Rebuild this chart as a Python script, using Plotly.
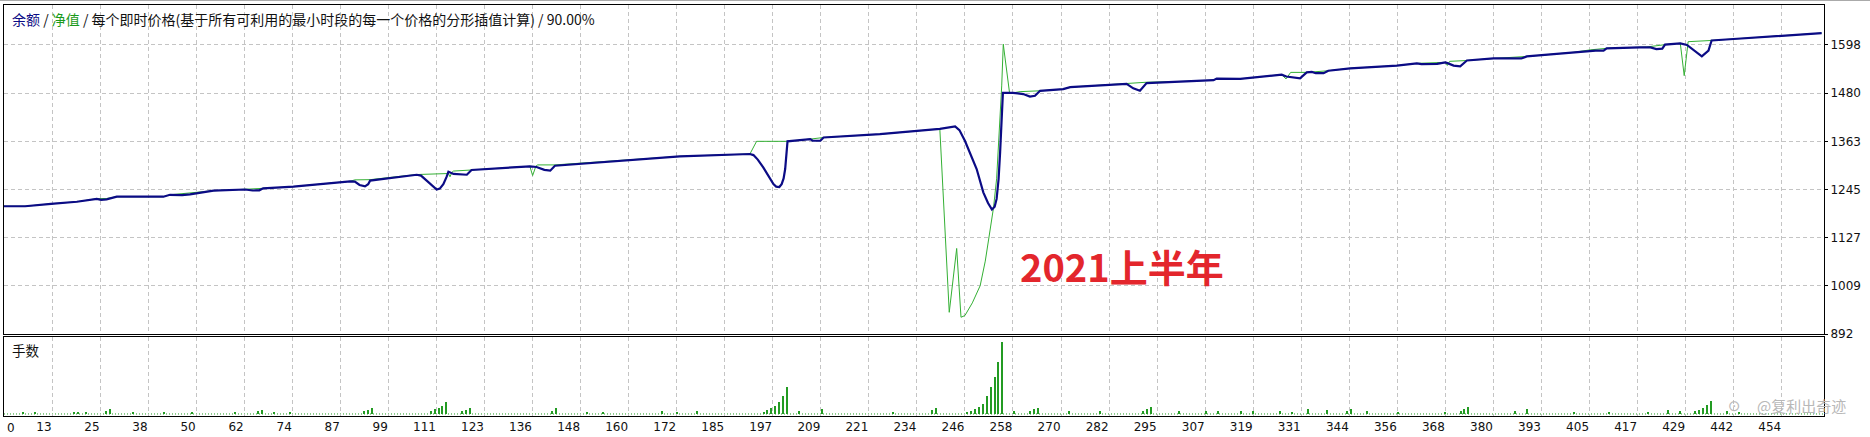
import plotly.graph_objects as go

# ---------------- data ----------------
x_tick_labels = ["0", "13", "25", "38", "50", "62", "74", "87", "99", "111", "123", "136",
                 "148", "160", "172", "185", "197", "209", "221", "234", "246", "258", "270",
                 "282", "295", "307", "319", "331", "344", "356", "368", "380", "393", "405",
                 "417", "429", "442", "454"]
y_tick_labels = ["892", "1009", "1127", "1245", "1363", "1480", "1598"]

balance_trade = [0, 5.4, 12, 18.6, 23.7, 24.8, 26.2, 28.8, 40.7, 42.4, 45.5, 47.5, 53.5, 61.6,
                 63.5, 65.2, 66.2, 73.9, 88.4, 89.6, 90.8, 92.2, 93.0, 93.5, 105.4, 106.5, 107.8,
                 109.2, 110.5, 111.3, 112.2, 113.0, 113.5, 114.8, 116.5, 118.2, 119.4, 126.7,
                 134.3, 136.0, 138.0, 139.5, 140.7, 172.6, 190.5, 191.4, 192.5, 193.9, 195.6,
                 196.5, 197.2, 198.0, 198.6, 199.1, 199.5, 200.1, 205.9, 206.5, 208.5, 209.3,
                 223.7, 239.0, 242.9, 244.0, 245.4, 246.8, 248.4, 250.1, 251.3, 252.3, 253.0,
                 253.5, 254.0, 254.4, 254.8, 255.1, 257.7, 260.3, 262.0, 263.3, 264.6, 270.5,
                 272.3, 286.7, 288.4, 290.1, 291.8, 301.2, 308.9, 309.7, 315.7, 326.3, 327.5,
                 331.0, 332.7, 334.0, 335.0, 337.0, 338.2, 343.8, 355.7, 360.8, 362.0, 366.0,
                 368.1, 368.8, 370.2, 371.9, 373.6, 380.4, 385.0, 387.5, 388.9, 400.8, 405.1,
                 406.5, 408.5, 409.3, 417.8, 420.5, 422.0, 423.5, 424.2, 428.1, 429.8, 431.5,
                 433.6, 435.3, 436.1, 441.7, 448.5, 458.7, 464.2]
balance_value = [1204, 1204, 1210, 1215, 1221.8, 1219.5, 1221, 1227.4, 1227.4, 1232, 1231, 1233,
                 1242, 1245, 1242.5, 1243, 1247.8, 1251.8, 1264.8, 1264, 1256, 1252.5, 1258,
                 1266.7, 1281, 1279, 1268, 1255, 1244.8, 1247, 1258, 1275, 1288.2, 1283, 1282,
                 1281, 1292.6, 1297.5, 1301.6, 1300, 1293, 1291, 1303, 1326, 1331.7, 1329, 1318,
                 1299, 1271, 1258, 1252, 1251, 1258, 1272, 1295, 1362.6, 1368, 1364, 1364, 1372,
                 1380, 1393, 1399, 1390, 1364, 1332, 1295, 1238, 1212, 1196, 1203, 1222, 1270,
                 1337, 1420, 1481, 1481, 1478, 1472, 1474, 1486, 1490, 1495, 1503, 1492, 1486,
                 1505, 1509, 1512, 1516, 1515, 1525.5, 1521, 1516.7, 1531, 1532, 1529, 1529,
                 1535, 1541, 1547.5, 1553, 1551, 1552, 1555.6, 1553, 1547.5, 1546, 1560, 1565,
                 1566, 1565, 1570, 1580, 1584, 1584, 1584, 1589.8, 1592, 1592, 1588, 1589,
                 1598.7, 1602, 1598, 1585, 1570, 1584, 1609, 1612.5, 1616.6, 1622, 1627]

equity_trade = [0, 5.4, 12, 18.6, 23.7, 26.2, 28.8, 40.7, 42.4, 53.5, 61.6, 66.2, 73.9, 88.4,
                89.6, 93.5, 105.4, 113.5, 113.9, 114.4, 114.8, 119.4, 126.7, 134.3, 135.0, 135.8,
                136.2, 140.7, 172.6, 190.5, 192.2, 200.1, 205.9, 209.3, 223.7, 239.0, 241.4,
                243.3, 244.4, 245.4, 247.3, 249.3, 250.6, 251.8, 252.7, 253.5, 254.2, 254.8,
                255.2, 256.1, 256.8, 257.7, 259.5, 264.6, 270.5, 272.3, 286.7, 291.8, 301.2,
                308.9, 309.7, 315.7, 326.3, 327.4, 328.6, 332.7, 338.2, 343.8, 355.7, 360.8,
                368.1, 368.6, 369.2, 373.6, 380.4, 388.9, 400.8, 405.1, 409.3, 417.8, 419.5,
                424.2, 428.1, 429.1, 430.1, 436.1, 441.7, 448.5, 458.7, 464.2]
equity_value = [1204, 1204, 1210, 1215, 1222.5, 1223, 1227.4, 1227.4, 1232, 1242, 1245.5, 1248,
                1251.8, 1265, 1268.5, 1269, 1281.5, 1284, 1276, 1287, 1290, 1292.6, 1297.5,
                1301.6, 1279, 1301, 1305, 1305, 1326, 1331.7, 1362.6, 1362.6, 1368, 1372, 1380,
                1393, 945, 1101, 933, 937, 968, 1010, 1070, 1140, 1200, 1271, 1390, 1498, 1600,
                1531, 1481, 1481, 1484, 1486, 1490, 1495, 1505, 1507, 1509, 1512, 1516, 1515,
                1525.5, 1515, 1531, 1531, 1535, 1541, 1547.5, 1553, 1555.6, 1548, 1558, 1560,
                1565, 1570, 1580, 1586, 1589.8, 1592, 1593, 1598.7, 1602, 1523, 1606, 1609,
                1612.5, 1616.6, 1622, 1627]

lot_trade = [5, 8, 18, 19, 21, 26, 27, 33, 41, 48, 59, 65, 66, 69, 73, 92, 93, 94, 109, 110, 111,
             112, 113, 117, 118, 119, 140, 141, 149, 153, 168, 172, 177, 194, 195, 196, 197, 198,
             199, 200, 203, 209, 227, 237, 238, 246, 247, 248, 249, 250, 251, 252, 253, 254, 255,
             258, 262, 263, 264, 272, 280, 291, 292, 293, 300, 307, 310, 316, 319, 326, 329, 333,
             338, 343, 344, 348, 356, 368, 372, 373, 374, 386, 389, 401, 410, 420, 425, 428, 432,
             433, 434, 435, 436, 440, 443]
lot_size = [0.009, 0.009, 0.009, 0.009, 0.009, 0.013, 0.022, 0.009, 0.009, 0.009, 0.009, 0.013,
            0.018, 0.009, 0.009, 0.013, 0.018, 0.027, 0.013, 0.022, 0.027, 0.035, 0.053, 0.013,
            0.018, 0.027, 0.013, 0.027, 0.009, 0.009, 0.013, 0.009, 0.013, 0.009, 0.018, 0.027,
            0.035, 0.053, 0.08, 0.12, 0.013, 0.022, 0.009, 0.018, 0.027, 0.009, 0.013, 0.022,
            0.031, 0.044, 0.08, 0.12, 0.164, 0.23, 0.32, 0.013, 0.013, 0.022, 0.027, 0.013,
            0.013, 0.013, 0.022, 0.031, 0.013, 0.013, 0.013, 0.013, 0.013, 0.013, 0.009, 0.022,
            0.018, 0.013, 0.022, 0.013, 0.009, 0.009, 0.013, 0.022, 0.031, 0.013, 0.022, 0.009,
            0.009, 0.009, 0.018, 0.013, 0.013, 0.018, 0.027, 0.04, 0.057, 0.013, 0.009]

# ---------------- styling ----------------
NAVY = "#0b0b85"
GREEN = "#34b034"
BAR_GREEN = "#239b23"
GRID = "#c4c4c4"
TICK_FONT = dict(family="DejaVu Sans", size=12, color="#111111")
CJK = "Noto Sans CJK SC"

n_x = len(x_tick_labels)
x_step = float(x_tick_labels[-1]) / (n_x - 1)
x_tickvals = [i * x_step for i in range(n_x)]
# the first label ("0") cannot sit left of the frame; it is drawn right of it below
x_ticktext = [""] + x_tick_labels[1:]

y_lo, y_hi_tick = float(y_tick_labels[0]), float(y_tick_labels[-1])
y_step = (y_hi_tick - y_lo) / (len(y_tick_labels) - 1)
y_tickvals = [y_lo + i * y_step for i in range(len(y_tick_labels))]

fig = go.Figure()
fig.add_trace(go.Scatter(x=equity_trade, y=equity_value, mode="lines", name="净值",
                         line=dict(color=GREEN, width=1), xaxis="x", yaxis="y"))
fig.add_trace(go.Scatter(x=balance_trade, y=balance_value, mode="lines", name="余额",
                         line=dict(color=NAVY, width=2.2), xaxis="x", yaxis="y"))
fig.add_trace(go.Bar(x=lot_trade, y=lot_size, name="手数", width=0.32,
                     marker=dict(color=BAR_GREEN, line=dict(width=0)),
                     xaxis="x2", yaxis="y2"))

common_x = dict(range=[0, 464.8], tickvals=x_tickvals, showgrid=True, gridcolor=GRID,
                griddash="4px,3px", gridwidth=1, zeroline=False, showline=True, mirror=True,
                linecolor="black", linewidth=1, automargin=False)

fig.update_layout(
    width=1870, height=437,
    margin=dict(l=4, r=46, t=5, b=21, autoexpand=False),
    paper_bgcolor="white", plot_bgcolor="white",
    showlegend=False, bargap=0,
    xaxis=dict(domain=[0, 1], anchor="y", showticklabels=False, ticks="", **common_x),
    xaxis2=dict(domain=[0, 1], anchor="y2", matches="x", ticktext=x_ticktext,
                showticklabels=True, ticks="", tickfont=TICK_FONT,
                ticklabelposition="outside left", **common_x),
    yaxis=dict(domain=[0.1995, 1], anchor="x", range=[892, 1695.6], side="right",
               tickvals=y_tickvals, ticktext=y_tick_labels, ticks="outside", ticklen=3,
               tickcolor="black", tickfont=TICK_FONT, showgrid=True, gridcolor=GRID,
               griddash="4px,3px", zeroline=False, showline=True, mirror=True,
               linecolor="black", linewidth=1, automargin=False),
    yaxis2=dict(domain=[0, 0.1922], anchor="x2", range=[-0.009, 0.342], side="right",
                showticklabels=False, ticks="", showgrid=False, zeroline=False,
                showline=True, mirror=True, linecolor="black", linewidth=1, automargin=False),
)

# dotted baseline of the lots panel and top grey rule
fig.add_shape(type="line", xref="x2 domain", yref="y2", x0=0, x1=1, y0=0, y1=0,
              line=dict(color=BAR_GREEN, width=1, dash="1px,2px"), layer="below")
fig.add_shape(type="line", xref="paper", yref="paper", x0=-0.01, x1=1.03, y0=1.011, y1=1.011,
              line=dict(color="#a8a8a8", width=1))

# first x tick label, placed just right of the frame
fig.add_annotation(text=x_tick_labels[0], xref="x2", yref="paper", x=x_tickvals[0], y=-0.029,
                   xanchor="left", yanchor="middle", xshift=1, showarrow=False,
                   font=TICK_FONT)

header = ("<span style='color:%s'>余额</span> / <span style='color:%s'>净值</span> / "
          "每个即时价格(基于所有可利用的最小时段的每一个价格的分形插值计算) / 90.00%%" % (NAVY, "#1a9a1a"))
fig.add_annotation(text=header, xref="paper", yref="paper", x=0.0033, y=0.966,
                   xanchor="left", yanchor="middle", showarrow=False,
                   font=dict(family=CJK, size=14, color="#111111"))
fig.add_annotation(text="手数", xref="paper", yref="paper", x=0.0033, y=0.1606,
                   xanchor="left", yanchor="middle", showarrow=False,
                   font=dict(family=CJK, size=13.5, color="#111111"))
fig.add_annotation(text="<b>2021上半年</b>", xref="paper", yref="paper", x=0.5571, y=0.365,
                   xanchor="left", yanchor="middle", showarrow=False,
                   font=dict(family=CJK, size=38, color="#e3262c"))
fig.add_annotation(text="@复利出奇迹", xref="paper", yref="paper", x=0.9875, y=0.025,
                   xanchor="center", yanchor="middle", showarrow=False,
                   font=dict(family=CJK, size=15, color="#b8b8b8"))
fig.add_annotation(text="⊙", xref="paper", yref="paper", x=0.951, y=0.025,
                   xanchor="center", yanchor="middle", showarrow=False,
                   font=dict(family="DejaVu Sans", size=15, color="#b8b8b8"))

fig.write_html("out.html", config={"displayModeBar": False},
               post_script="document.body.style.margin='0px';")
